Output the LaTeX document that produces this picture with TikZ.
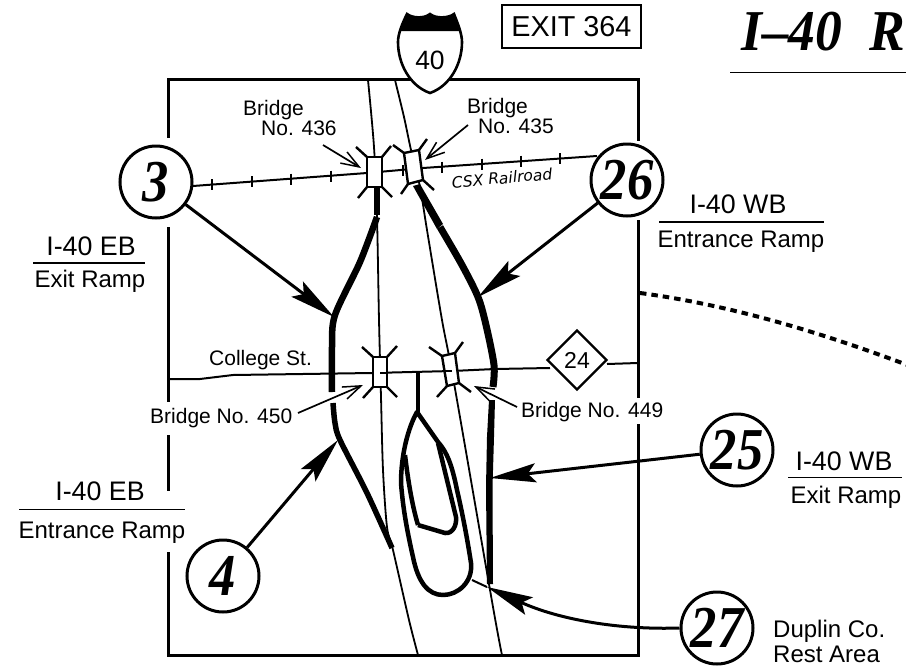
\documentclass[tikz,border=0pt]{standalone}
\usepackage{fontspec}
\setmainfont{Liberation Sans}
\newfontfamily\titlefont{Liberation Serif}
\newfontfamily\csxfont{DejaVu Sans}
\usetikzlibrary{arrows.meta,shapes.geometric}
\newcommand{\fsz}[1]{\fontsize{#1}{#1}\selectfont}
\newcommand{\tallnum}[1]{\scalebox{.94}[1.06]{#1}}
\tikzset{
  frameline/.style={line width=3pt,line cap=butt},
  road/.style={line width=1.8pt},
  ramp/.style={line width=6.5pt},
  restloop/.style={line width=4.5pt,line join=round},
  rail/.style={line width=2pt},
  tick/.style={line width=1.6pt},
  bridgebox/.style={line width=2.4pt,fill=white,line join=miter},
  wing/.style={line width=2.4pt},
  rulerline/.style={line width=1.5pt},
  numcircle/.style={circle,draw,line width=3pt,fill=white,minimum size=72pt,inner sep=0pt,font=\titlefont\bfseries\itshape\fsz{56}},
  bigarrow/.style={line width=3pt,-{Stealth[length=46pt,width=19pt,inset=8pt]}},
  thinarrow/.style={line width=1.7pt,-{Straight Barb[length=18pt,width=13pt,line width=1.5pt]}},
  big/.style={inner sep=0pt,anchor=base,font=\fsz{26.8}},
  mid/.style={inner sep=0pt,anchor=base,font=\fsz{24}},
  small/.style={inner sep=0pt,anchor=base west,font=\fsz{21}}
}
\begin{document}
\begin{tikzpicture}[x=1pt,y=-1pt]
\useasboundingbox (0,0) rectangle (906,670);
\clip (0,0) rectangle (906,670);
\fill[white] (0,0) rectangle (906,670);

% frame
\draw[frameline,line join=miter] (168,137.5) -- (168,79.5) -- (638,79.5) -- (638,141);
\draw[frameline] (638,220) -- (638,398);
\draw[frameline] (638,424) -- (638,656.5);
\draw[frameline] (168,227) -- (168,402);
\draw[frameline] (168,435) -- (168,491);
\draw[frameline,line join=miter] (168,552) -- (168,655) -- (638,655);

% dotted boundary
\coordinate (dotA) at (640,293);
\coordinate (dotB) at (910,366);
\draw[line width=4pt,dash pattern=on 6.5pt off 5pt] (dotA) .. controls (730,305) and (820,332) .. (dotB);

% thin roads
\draw[road] plot[smooth,tension=.5] coordinates {(368,80) (374,147) (377,217) (379,320) (381,397) (383,470) (387,527) (393,550) (409,620) (418,655)};
\draw[road] plot[smooth,tension=.5] coordinates {(395,80) (404,117) (411,150) (420,187) (427,230) (442,320) (454,383) (493,607) (502,655)};

% railroad
\coordinate (railA) at (193,186);
\coordinate (railB) at (367,173);
\coordinate (railC) at (423,168);
\coordinate (railD) at (597,156);
\draw[rail] (railA) -- (railB) -- (railC) -- (railD);
\foreach \x/\y in {212/184.5,252/181.5,291/179,331/176,403/170.5,442/167,482/164,521/161,560/158.5}
  \draw[tick] (\x,\y-5.5) -- (\x,\y+5.5);

% College St.
\draw[rail] (168,379) -- (200,379) -- (233,375) -- (372,373) -- (452,371) -- (495,369) -- (550,368);
\draw[rail] (607,364) -- (638,363);

% ramps
\draw[ramp] (377,187) -- (377,215);
\draw[ramp] plot[smooth,tension=.5] coordinates {(377,217) (360,262) (335,315) (332,347) (332,392)};
\draw[line width=5.5pt] plot[smooth,tension=.5] coordinates {(333,403) (335,423) (340,440) (367,493) (392,548)};
\fill (413,186) -- (420,184) -- (443,224) -- (437,229) -- cycle;
\draw[line width=7pt] plot[smooth,tension=.5] coordinates {(440,227) (462,265) (478,297) (486,325) (494,365) (493,387)};
\fill (489,400) -- (495,400) -- (494,437) -- (492.5,487) -- (493,584) -- (487,584) -- (486,487) -- (487,437) -- cycle;

% rest area
\draw[line width=4.5pt] (418,372) -- (418,412);
\draw[restloop] (417,412) .. controls (408,428) and (401,455) .. (401,483)
  .. controls (403,510) and (408,535) .. (413,557)
  .. controls (418,582) and (428,595) .. (443,595)
  .. controls (458,595) and (473,582) .. (471,563)
  .. controls (466,530) and (460,503) .. (457,490)
  .. controls (452,465) and (447,452) .. (438,442) -- cycle;
\draw[restloop] (405,455) .. controls (408,480) and (412,505) .. (418,525);
\draw[restloop] (418,525) -- (445,533) .. controls (452,534) and (457,526) .. (456,517) -- (438,443);

% bridges
\draw[wing] (367,157) -- (356,147) (382,157) -- (391,146) (367,187) -- (358,198) (382,187) -- (392,197);
\draw[bridgebox] (367,157) rectangle (382,187);
\draw[wing] (404,153) -- (393,145) (419,150) -- (427,139) (408,184) -- (401,194) (423,180) -- (434,190);
\draw[bridgebox] (404,153) -- (419,150) -- (423,180) -- (408,184) -- cycle;
\draw[wing] (373,357) -- (362,347) (387,357) -- (397,346) (373,387) -- (363,398) (387,387) -- (397,397);
\draw[bridgebox] (373,357) rectangle (387,387);
\draw[wing] (442,356) -- (429,347) (455,353) -- (463,342) (447,386) -- (437,397) (459,383) -- (471,392);
\draw[bridgebox] (442,356) -- (455,353) -- (459,383) -- (447,386) -- cycle;
\draw[rail] (380,373) -- (387,373);
\draw[rail] (445,371) -- (452,371);

% shield
\draw[line width=2.6pt,fill=white] (407,14) .. controls (412,18) and (424,19) .. (430,14)
  .. controls (436,19) and (449,18) .. (454,14)
  .. controls (458,24) and (462,34) .. (462,42)
  .. controls (462,64) and (450,86) .. (430,93)
  .. controls (410,86) and (398,64) .. (398,42)
  .. controls (398,34) and (402,24) .. (407,14) -- cycle;
\fill (407,14) .. controls (412,18) and (424,19) .. (430,14)
  .. controls (436,19) and (449,18) .. (454,14)
  .. controls (457,20) and (460,26) .. (461,31) -- (400,31)
  .. controls (401,26) and (404,20) .. (407,14) -- cycle;
\node[inner sep=0pt,anchor=base,font=\fsz{26.5}] (shieldnum) at (430,69) {40};

% exit box
\node[draw,line width=2pt,minimum width=139pt,minimum height=43pt,inner sep=0pt,font=\fsz{28.8}] (exitbox) at (571.5,26.5) {EXIT 364};

% title
\node[inner sep=0pt,anchor=base west,font=\titlefont\bfseries\itshape\fsz{53.5}] (title) at (741,50) {\scalebox{1}[1.08]{I–40\ \ R}};
\draw[rulerline] (730,72.5) -- (906,72.5);

% diamond
\node[diamond,draw,line width=2.4pt,fill=white,minimum width=60pt,minimum height=60pt,inner sep=0pt,font=\fsz{23}] (route) at (577,360) {24};

% numbered circles
\node[numcircle] (c3) at (156,182) {\tallnum{3}};
\node[numcircle] (c26) at (627,180) {\tallnum{26}};
\node[numcircle] (c25) at (737,450) {\tallnum{25}};
\node[numcircle] (c4) at (223,576) {\tallnum{4}};
\node[numcircle] (c27) at (717,628) {\tallnum{27}};

% big arrows
\coordinate (t3) at (334,317);
\coordinate (t26) at (478,297);
\coordinate (t4) at (338,440);
\coordinate (t25) at (490,478);
\coordinate (t27) at (487,587);
\coordinate (e27) at (472,580);
\draw[bigarrow] (c3) -- (t3);
\draw[bigarrow] (c26) -- (t26);
\draw[bigarrow] (c4) -- (t4);
\draw[bigarrow] (c25) -- (t25);
\draw[bigarrow] (c27.west) .. controls (620,630) and (560,620) .. (t27);
\draw[line width=2pt] (e27) -- (t27);

% bridge labels
\node[small] (b436a) at (243,115) {Bridge};
\node[small] (b436b) at (261,135) {No. 436};
\node[small] (b435a) at (467,113) {Bridge};
\node[small] (b435b) at (478,133) {No. 435};
\node[small] (b450) at (150,423) {Bridge No. 450};
\node[small] (b449) at (521,417) {Bridge No. 449};
\node[small] (college) at (209,365) {College St.};
\coordinate (a436) at (323,145);
\coordinate (h436) at (361,168);
\coordinate (a435) at (468,125);
\coordinate (h435) at (425,160);
\coordinate (a450) at (298,413);
\coordinate (h450) at (363,385);
\coordinate (a449) at (517,407);
\coordinate (h449) at (474,386);
\draw[thinarrow] (a436) -- (h436);
\draw[thinarrow] (a435) -- (h435);
\draw[thinarrow] (a450) -- (h450);
\draw[thinarrow] (a449) -- (h449);

% railroad label
\node[inner sep=0pt,rotate=5,font=\csxfont\itshape\fsz{15.5}] (csx) at (502,178) {CSX Railroad};

% ramp labels
\node[big] (l1) at (91,255) {I-40 EB};
\draw[rulerline] (33,263) -- (145,263);
\node[mid] (l2) at (90,287) {Exit Ramp};
\node[big] (l3) at (738,213) {I-40 WB};
\draw[rulerline] (659,222) -- (824,222);
\node[mid] (l4) at (741,247) {Entrance Ramp};
\node[big] (l5) at (100,500) {I-40 EB};
\draw[rulerline] (19,509.5) -- (185,509.5);
\node[mid] (l6) at (102,538) {Entrance Ramp};
\node[big] (l7) at (844,470) {I-40 WB};
\draw[rulerline] (788,477.5) -- (902,477.5);
\node[mid] (l8) at (846,503) {Exit Ramp};
\node[mid,anchor=base west] (l9) at (773,637) {Duplin Co.};
\node[mid,anchor=base west] (l10) at (773,662) {Rest Area};
\end{tikzpicture}
\end{document}
